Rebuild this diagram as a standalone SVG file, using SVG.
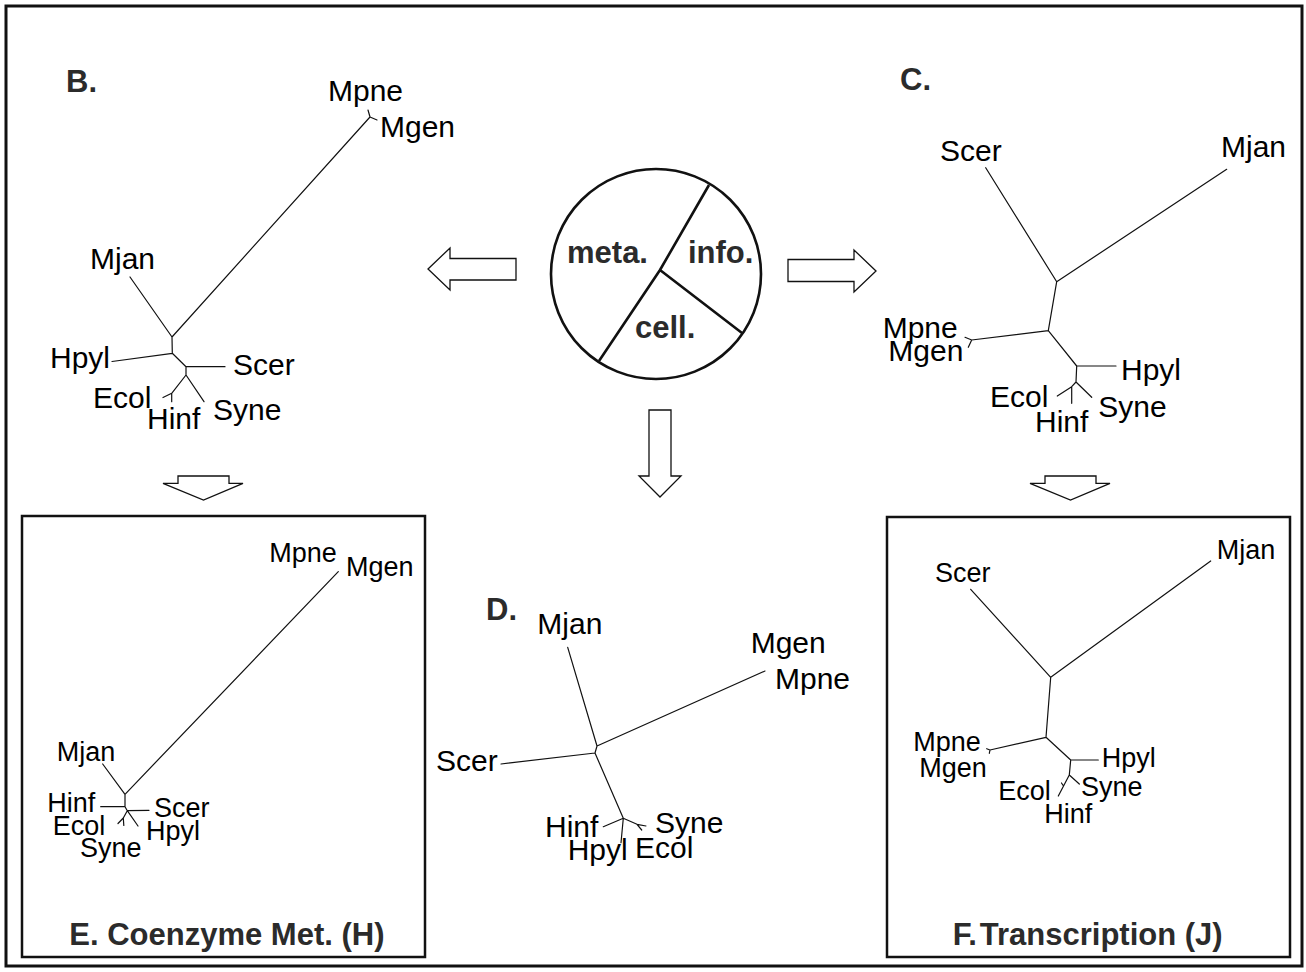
<svg xmlns="http://www.w3.org/2000/svg" width="1306" height="972" viewBox="0 0 1306 972">
<style>
.frame{fill:none;stroke:#111;stroke-width:3}
.box{fill:none;stroke:#111;stroke-width:2.5}
.br{stroke:#111;stroke-width:1.2;fill:none;stroke-linecap:round}
.arr{fill:#fff;stroke:#111;stroke-width:1.3;stroke-linejoin:miter}
.tx{font-family:"Liberation Sans",Arial,sans-serif;font-size:30px;fill:#000}
.tx.s{font-size:27px}
.hd{font-family:"Liberation Sans",Arial,sans-serif;font-weight:bold;font-size:31px;fill:#2b2b2b}
.pie{fill:#fff;stroke:#111;stroke-width:2.6}
.pl{stroke:#111;stroke-width:2.6;fill:none}
</style>
<rect width="1306" height="972" fill="#fff"/>
<rect class="frame" x="6" y="6" width="1296" height="960"/>

<g id="center">
<circle class="pie" cx="656" cy="274" r="105"/>
<path class="pl" d="M709,185 L660,270 L599,361 M660,270 L742,333"/>
<text class="hd" x="567" y="263">meta.</text>
<text class="hd" x="688" y="263">info.</text>
<text class="hd" x="635" y="338">cell.</text>
</g>

<g id="connectors">
<polygon class="arr" points="428,269 450,248 450,258.5 516,258.5 516,280 450,280 450,290"/>
<polygon class="arr" points="876,271 854,250 854,259.5 788,259.5 788,281.5 854,281.5 854,292"/>
<polygon class="arr" points="649,410 671,410 671,476 681,476 660,497 639,476 649,476"/>
<polygon class="arr" points="178,476 229,476 229,483.3 243,483.3 203.5,500 163,483.3 178,483.3"/>
<polygon class="arr" points="1045,476 1096,476 1096,483.3 1110,483.3 1070.5,500 1030,483.3 1045,483.3"/>
</g>

<g id="treeB">
<text class="hd" x="66" y="92">B.</text>
<path class="br" d="M370,117 L172,337 M370,117 L368,110 M370,117 L377,120 M172,337 L130,277 M172,337 L172.3,353.3 M172.3,353.3 L112,361.5 M172.3,353.3 L186,366.7 M186,366.7 L225,366.7 M186,366.7 L186,375 M186,375 L204,401.7 M186,375 L171.7,393.3 M171.7,393.3 L163,397.5 M171.7,393.3 L171.7,401.7"/>
<text class="tx" x="328" y="101">Mpne</text>
<text class="tx" x="380" y="137">Mgen</text>
<text class="tx" x="90" y="269">Mjan</text>
<text class="tx" x="50" y="368">Hpyl</text>
<text class="tx" x="233" y="375">Scer</text>
<text class="tx" x="93" y="408">Ecol</text>
<text class="tx" x="147" y="429">Hinf</text>
<text class="tx" x="213" y="420">Syne</text>
</g>

<g id="treeC">
<text class="hd" x="900" y="90">C.</text>
<path class="br" d="M985.7,167.7 L1056.7,281.7 M1226.7,169.3 L1056.7,281.7 M1056.7,281.7 L1048.3,330.7 M1048.3,330.7 L971.7,340 M971.7,340 L965,337.3 M971.7,340 L968.3,347.3 M1048.3,330.7 L1076.7,366 M1076.7,366 L1116,366 M1076.7,366 L1076,382 M1076,382 L1091.7,397.3 M1076,382 L1071.7,386.7 M1071.7,386.7 L1057.3,396 M1071.7,386.7 L1071.7,403.3"/>
<text class="tx" x="940" y="160.7">Scer</text>
<text class="tx" x="1221" y="156.7">Mjan</text>
<text class="tx" x="882.7" y="338.3">Mpne</text>
<text class="tx" x="888.3" y="361">Mgen</text>
<text class="tx" x="1121" y="380">Hpyl</text>
<text class="tx" x="1098.3" y="416.7">Syne</text>
<text class="tx" x="990" y="406.7">Ecol</text>
<text class="tx" x="1035" y="431.7">Hinf</text>
</g>

<g id="treeD">
<text class="hd" x="486" y="620">D.</text>
<path class="br" d="M567.7,647.3 L597,746 M597,746 L765,671 M597,746 L595,753 M595,753 L501,764 M595,753 L623.3,818.3 M623.3,818.3 L603.3,826.7 M623.3,818.3 L621,842.7 M623.3,818.3 L637,824.3 M637,824.3 L646,826 M637,824.3 L641.7,830"/>
<text class="tx" x="537.3" y="634">Mjan</text>
<text class="tx" x="750.7" y="652.7">Mgen</text>
<text class="tx" x="775" y="689.3">Mpne</text>
<text class="tx" x="436" y="770.7">Scer</text>
<text class="tx" x="545" y="836.7">Hinf</text>
<text class="tx" x="567.7" y="860">Hpyl</text>
<text class="tx" x="655" y="833.3">Syne</text>
<text class="tx" x="635" y="858.3">Ecol</text>
</g>

<g id="treeE">
<rect class="box" x="22" y="516" width="403" height="441"/>
<path class="br" d="M338.3,571.7 L125,794.3 M125,794.3 L102.7,764 M125,794.3 L125,806.7 M125,806.7 L100.7,806.7 M125,806.7 L127.3,810.7 M127.3,810.7 L149,810.3 M127.3,810.7 L138,826 M127.3,810.7 L123.3,818 M123.3,818 L118,823.5 M123.3,818 L123.8,825.5"/>
<text class="tx s" x="269.3" y="561.7">Mpne</text>
<text class="tx s" x="346" y="576">Mgen</text>
<text class="tx s" x="56.7" y="760.7">Mjan</text>
<text class="tx s" x="47.3" y="811.7">Hinf</text>
<text class="tx s" x="154" y="816.7">Scer</text>
<text class="tx s" x="52.7" y="835">Ecol</text>
<text class="tx s" x="146" y="840">Hpyl</text>
<text class="tx s" x="80" y="856.7">Syne</text>
<text class="hd" x="69.3" y="945">E. Coenzyme Met. (H)</text>
</g>

<g id="treeF">
<rect class="box" x="887" y="517" width="403" height="440"/>
<path class="br" d="M970.7,589.3 L1050.7,677.3 M1210.7,561 L1050.7,677.3 M1050.7,677.3 L1046,737.3 M1046,737.3 L990,750 M990,750 L986.7,748.7 M990,750 L989.3,753.3 M1046,737.3 L1070.7,760 M1070.7,760 L1098.3,760 M1070.7,760 L1069.3,775 M1069.3,775 L1079.3,784 M1069.3,775 L1058.3,796 M1063.5,786 L1061.5,783"/>
<text class="tx s" x="935" y="581.7">Scer</text>
<text class="tx s" x="1216.7" y="559.3">Mjan</text>
<text class="tx s" x="913.3" y="750.7">Mpne</text>
<text class="tx s" x="919.3" y="776.7">Mgen</text>
<text class="tx s" x="1101.7" y="767.3">Hpyl</text>
<text class="tx s" x="1081" y="796">Syne</text>
<text class="tx s" x="998.3" y="800">Ecol</text>
<text class="tx s" x="1044.3" y="823.3">Hinf</text>
<text class="hd" x="952.7" y="945">F.<tspan dx="3">Transcription (J)</tspan></text>
</g>
</svg>
